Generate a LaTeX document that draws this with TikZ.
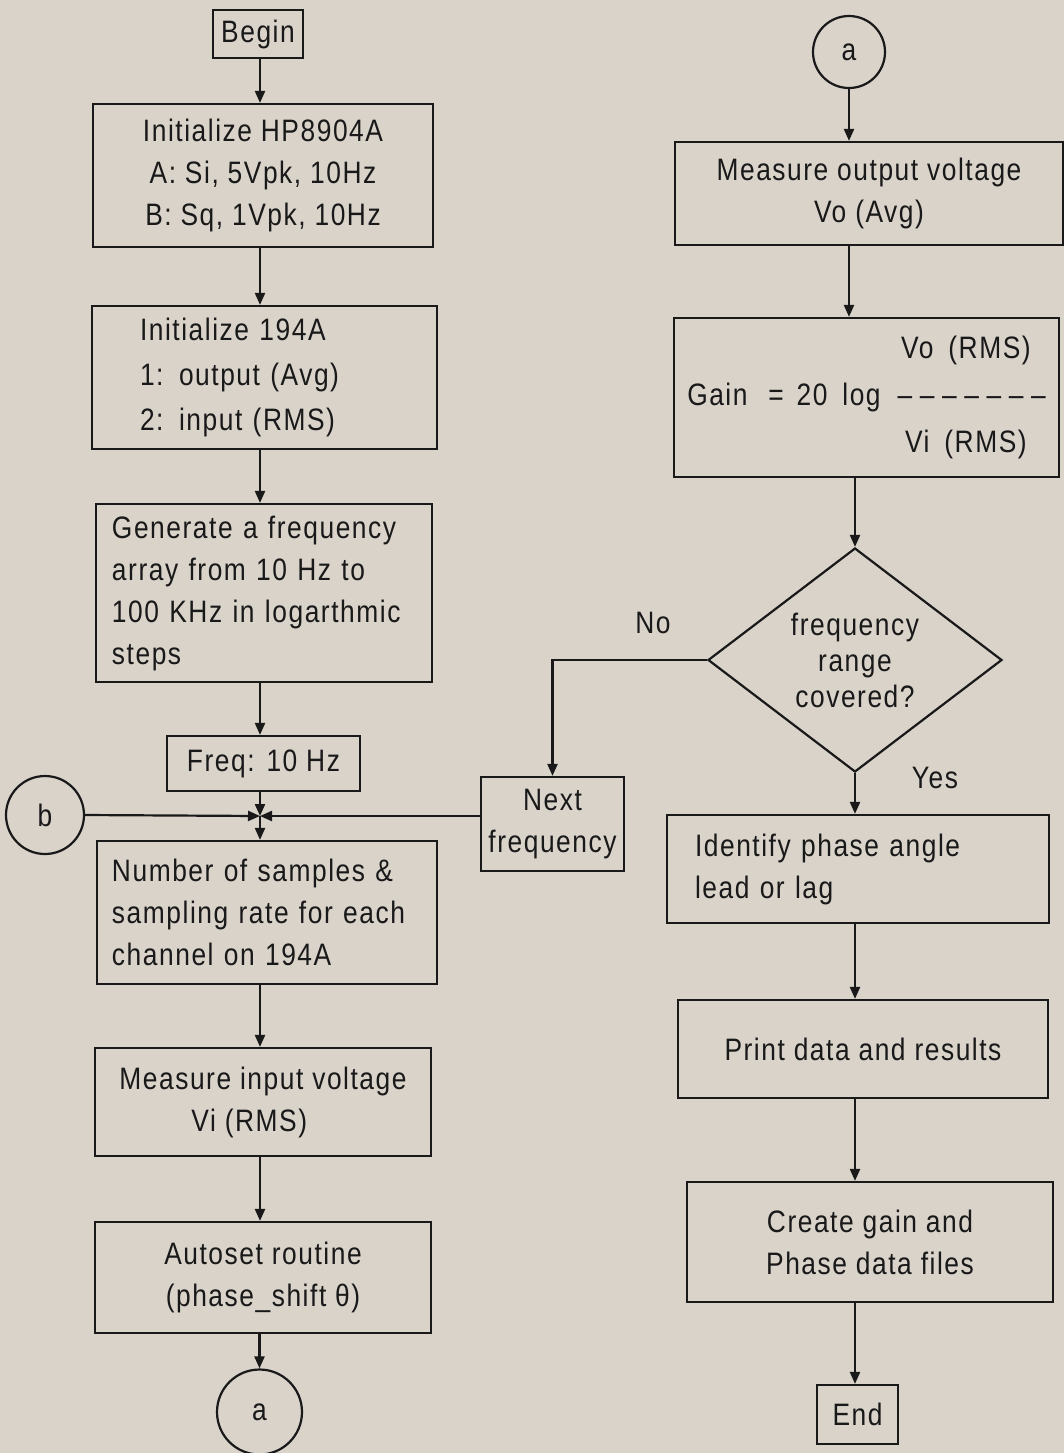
\documentclass[tikz,border=0pt]{standalone}
\usepackage{fontspec}
\setmainfont{Liberation Sans}[FakeStretch=0.85,LetterSpace=5]
\usetikzlibrary{shapes.geometric,arrows.meta}
\definecolor{paper}{RGB}{217,211,202}
\definecolor{ink}{RGB}{25,25,25}
\newcommand{\gaindash}{–\kern3.8pt}
\begin{document}
\begin{tikzpicture}[x=0.5pt, y=-0.5pt, line width=1.1pt, color=ink, >={Triangle[length=6pt,width=5pt]},
  txt/.style={font=\fontsize{15.5}{21}\selectfont},
  box/.style={txt, draw, rectangle, inner sep=0pt, align=center},
  leftbox/.style={txt, draw, rectangle, inner ysep=0pt, align=left},
  conn/.style={txt, draw, circle, inner sep=0pt},
  decision/.style={txt, draw, diamond, inner sep=0pt, align=center, font=\fontsize{15.5}{18}\selectfont},
  lbl/.style={txt}]
\fill[paper] (0,0) rectangle (1064,1453);
\useasboundingbox (0,0) rectangle (1064,1453);
% left column
\coordinate (lc) at (260,0);
\node (begin) [box, minimum width=45pt, minimum height=24pt] at (258,34) {Begin};
\node (init) [box, minimum width=170pt, minimum height=71.5pt] at (263,175.5) {Initialize HP8904A\\A: Si, 5Vpk, 10Hz\\B: Sq, 1Vpk, 10Hz};
\node (ini194) [leftbox, inner xsep=24pt, text width=124.5pt, minimum height=71.5pt, font=\fontsize{15.5}{22.5}\selectfont] at (264.5,377.5) {Initialize 194A\\1: output (Avg)\\2: input (RMS)};
\node (gen) [leftbox, inner xsep=8pt, text width=152pt, minimum height=89pt] at (264,593) {Generate a frequency\\array from 10 Hz to\\100 KHz in logarthmic\\steps};
\node (freq) [box, minimum width=96.5pt, minimum height=27.5pt] at (263.5,763.5) {Freq: 10 Hz};
\coordinate (junc) at (260,816);
\node (bconn) [conn, minimum size=39pt] at (45,815) {b};
\node (nextf) [box, minimum width=71.5pt, minimum height=47pt] at (552.5,824) {Next\\frequency};
\node (nsamp) [leftbox, inner xsep=7.5pt, text width=155pt, minimum height=71.5pt] at (267,912.5) {Number of samples \&\\sampling rate for each\\channel on 194A};
\node (vin) [box, align=left, minimum width=168pt, minimum height=54pt] at (263,1102) {Measure input voltage\\\hspace*{36pt}Vi (RMS)};
\node (autoset) [box, minimum width=168pt, minimum height=55.5pt] at (263,1277.5) {Autoset routine\\(phase\_shift θ)};
\node (abot) [conn, minimum size=42.5pt] at (259.5,1412) {a};
% right column
\coordinate (rc) at (849,0);
\coordinate (rd) at (855,0);
\node (atop) [conn, minimum size=36pt] at (849,52) {a};
\node (vout) [box, minimum width=194pt, minimum height=51.5pt] at (869,193.5) {Measure output voltage\\Vo (Avg)};
\node (gain) [box, align=right, minimum width=192.5pt, minimum height=79.5pt] at (866.5,397.5) {Vo\hspace{3pt} (RMS)\hspace*{7.5pt}\\[2.5pt]Gain\hspace{6pt} = \hspace{2pt}20\hspace{3pt} log\hspace{4pt} \gaindash\gaindash\gaindash\gaindash\gaindash\gaindash–\hspace*{1pt}\\[2.5pt]Vi\hspace{3pt} (RMS)\hspace*{9.5pt}};
\node (covered) [decision, minimum width=147pt, minimum height=112pt] at (855,660) {frequency\\range\\covered?};
\node (nolbl) [lbl] at (653,623) {No};
\node (yeslbl) [lbl] at (935,778) {Yes};
\node (ident) [leftbox, inner xsep=14pt, text width=163pt, minimum height=54pt] at (858,869) {Identify phase angle\\lead or lag};
\node (prnt) [box, minimum width=185pt, minimum height=49pt] at (863,1049) {Print data and results};
\node (files) [box, minimum width=183pt, minimum height=60pt] at (870,1242) {Create gain and\\Phase data files};
\node (endn) [box, minimum width=40.5pt, minimum height=29.5pt] at (857.5,1414.5) {End};
% connectors
\draw[->] (begin.south -| lc) -- (init.north -| lc);
\draw[->] (init.south -| lc) -- (ini194.north -| lc);
\draw[->] (ini194.south -| lc) -- (gen.north -| lc);
\draw[->] (gen.south -| lc) -- (freq.north -| lc);
\draw[->] (freq.south -| lc) -- (junc);
\draw[->] (bconn.east) -- (junc);
\draw[->] (junc -| nextf.west) -- (junc);
\draw[->] (junc) -- (nsamp.north -| junc);
\draw[->] (nsamp.south -| lc) -- (vin.north -| lc);
\draw[->] (vin.south -| lc) -- (autoset.north -| lc);
\draw[->] (autoset.south -| abot.north) -- (abot.north);
\draw[->] (atop.south) -- (vout.north -| atop.south);
\draw[->] (vout.south -| rc) -- (gain.north -| rc);
\draw[->] (gain.south -| covered.north) -- (covered.north);
\draw[->] (covered.south) -- (ident.north -| covered.south);
\draw[->] (covered.west) -| (nextf.north);
\draw[->] (ident.south -| rd) -- (prnt.north -| rd);
\draw[->] (prnt.south -| rd) -- (files.north -| rd);
\draw[->] (files.south -| rd) -- (endn.north -| rd);
\end{tikzpicture}
\end{document}
